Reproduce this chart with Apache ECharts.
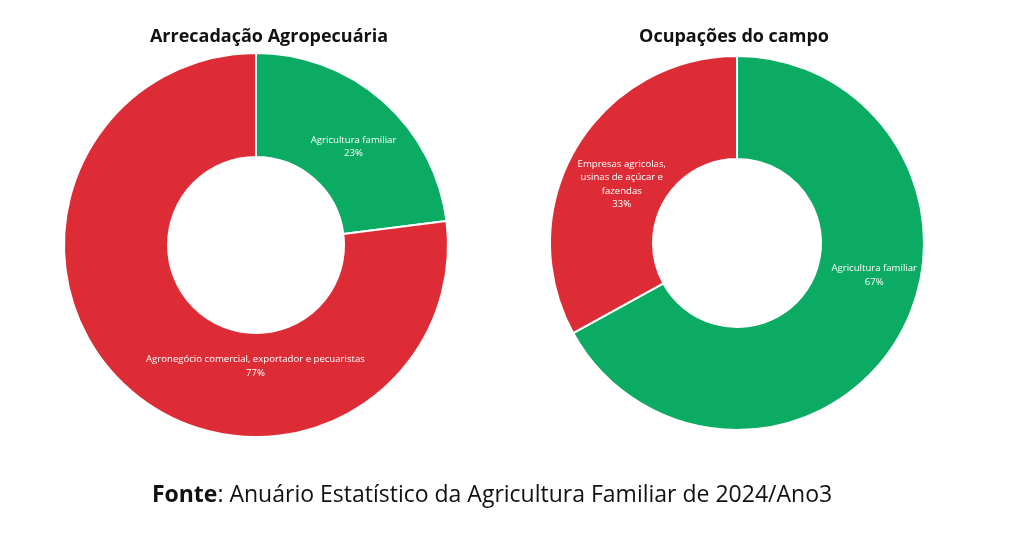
<!DOCTYPE html>
<html>
<head>
<meta charset="utf-8">
<script src="https://cdn.jsdelivr.net/npm/echarts@6/dist/echarts.min.js"></script>
<style>
  html, body { margin: 0; padding: 0; background: #fff; }
  #main { width: 1024px; height: 535px; }
</style>
</head>
<body>
<div id="main"></div>
<script>
// dados
var arrecadacaoNomes = ['Agricultura familiar', 'Agronegócio comercial, exportador e pecuaristas']
var arrecadacaoValores = [23, 77]
var ocupacoesNomes = ['Agricultura familiar', 'Empresas agricolas,\nusinas de açúcar e\nfazendas']
var ocupacoesValores = [67, 33]
var cores = ['#0bab63', '#dd2c36']

function toData(nomes, valores) {
    return nomes.map(function (n, i) {
        return { name: n, value: valores[i], itemStyle: { color: cores[i] } }
    })
}

// ajustes finos dos rótulos (deslocamento em px)
var offsetsEsq = [[3, 9], [94, 14]]
var offsetsDir = [[18, -38], [4, 12]]

function pieSerie(center, radius, data, offsets) {
    return {
        type: 'pie',
        center: center,
        radius: radius,
        startAngle: 90,
        clockwise: true,
        avoidLabelOverlap: false,
        silent: true,
        itemStyle: { borderColor: '#fff', borderWidth: 2 },
        label: {
            show: true,
            position: 'inside',
            formatter: '{b}\n{d}%',
            color: '#fff',
            fontFamily: 'Open Sans',
            fontSize: 9.6,
            lineHeight: 13.5,
            align: 'center'
        },
        labelLayout: function (p) {
            var o = offsets[p.dataIndex]
            return { dx: o[0], dy: o[1] }
        },
        labelLine: { show: false },
        data: data
    }
}

var chart = echarts.init(document.getElementById('main'))
chart.setOption({
    backgroundColor: '#fff',
    animation: false,
    title: [
        {
            text: 'Arrecadação Agropecuária',
            left: 264, top: 23, textAlign: 'center',
            textStyle: { fontFamily: 'Open Sans', fontWeight: 'bold', fontSize: 18, color: '#111' }
        },
        {
            text: 'Ocupações do campo',
            left: 729, top: 23, textAlign: 'center',
            textStyle: { fontFamily: 'Open Sans', fontWeight: 'bold', fontSize: 18, color: '#111' }
        },
        {
            text: '{b|Fonte}: Anuário Estatístico da Agricultura Familiar de 2024/Ano3',
            left: 487, top: 479, textAlign: 'center',
            textStyle: {
                fontFamily: 'Open Sans', fontSize: 23, color: '#111', fontWeight: 'normal',
                rich: { b: { fontFamily: 'Open Sans', fontSize: 23, fontWeight: 'bold', color: '#111' } }
            }
        }
    ],
    series: [
        pieSerie([256, 245], [88, 192], toData(arrecadacaoNomes, arrecadacaoValores), offsetsEsq),
        pieSerie([737, 243], [84, 187], toData(ocupacoesNomes, ocupacoesValores), offsetsDir)
    ]
})
</script>
</body>
</html>
